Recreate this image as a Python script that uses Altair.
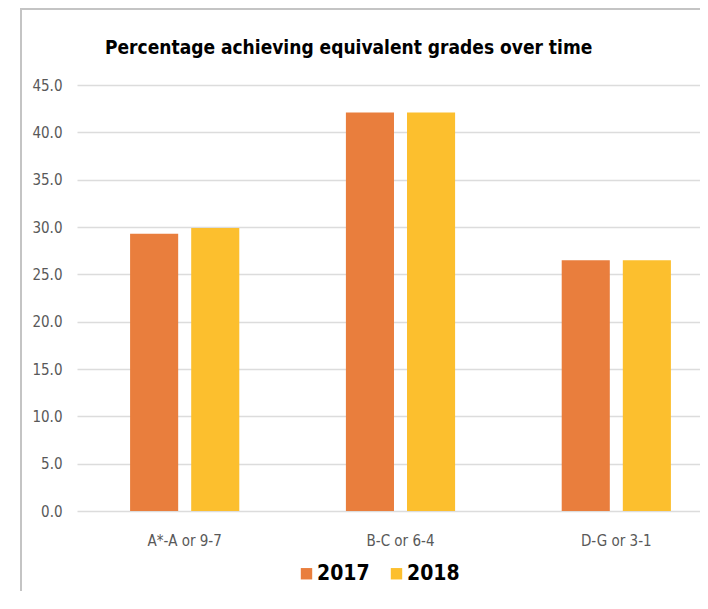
import altair as alt
import pandas as pd

categories = ["A*-A or 9-7", "B-C or 6-4", "D-G or 3-1"]
years = ["2017", "2018"]
v2017 = [29.3, 42.1, 26.5]
v2018 = [29.9, 42.1, 26.5]
y_ticks = [0, 5, 10, 15, 20, 25, 30, 35, 40, 45]
colors = ["#E97E3D", "#FCBF2E"]
title_text = "Percentage achieving equivalent grades over time"

rows = []
for c, a, b in zip(categories, v2017, v2018):
    rows.append({"grade": c, "year": "2017", "value": a})
    rows.append({"grade": c, "year": "2018", "value": b})
df = pd.DataFrame(rows)

FONT = "DejaVu Sans Condensed"
BORDER = "#c4c4c4"
one = alt.Data(values=[{"k": 1}])

left_edge = alt.Chart(one).mark_rule(color=BORDER, strokeWidth=2).encode(
    x=alt.value(-56), y=alt.value(-77), y2=alt.value(506)
)
top_edge = alt.Chart(one).mark_rule(color=BORDER, strokeWidth=2).encode(
    x=alt.value(-57), x2=alt.value(623), y=alt.value(-76)
)

title = alt.Chart(alt.Data(values=[{"t": title_text}])).mark_text(
    font=FONT, fontSize=19, fontWeight="bold", color="#000000", align="left", baseline="alphabetic"
).encode(text="t:N", x=alt.value(28), y=alt.value(-31))

bars = alt.Chart(df).mark_bar().encode(
    x=alt.X("grade:N", sort=categories,
            scale=alt.Scale(range=[0, 647], paddingInner=0.494, paddingOuter=0.246),
            axis=alt.Axis(title=None, labelAngle=0, labelFontSize=15, labelColor="#595959",
                          labelFont=FONT, labelPadding=22, ticks=False, domain=False, grid=False)),
    xOffset=alt.XOffset("year:N", sort=years, scale=alt.Scale(paddingInner=0.213, paddingOuter=0)),
    y=alt.Y("value:Q", scale=alt.Scale(domain=[0, 45], nice=False),
            axis=alt.Axis(title=None, values=y_ticks, format=".1f", labelFontSize=15,
                          labelColor="#595959", labelFont=FONT, labelPadding=15, ticks=False,
                          domain=False, gridColor="#dcdcdc", gridWidth=1.5)),
    color=alt.Color("year:N", sort=years, scale=alt.Scale(domain=years, range=colors),
                    legend=alt.Legend(title=None, orient="none", direction="horizontal",
                                      legendX=219, legendY=478, symbolType="square",
                                      symbolSize=130, symbolStrokeWidth=0, labelFontSize=21,
                                      labelFont=FONT, labelFontWeight="bold", labelColor="#000000",
                                      labelOffset=0, columnPadding=16)),
)

chart = alt.layer(left_edge, top_edge, title, bars).properties(
    width=623, height=426,
    padding={"left": 69, "top": 77, "right": 0, "bottom": 80},
    autosize=alt.AutoSizeParams(type="none"),
).configure_view(stroke=None)

chart.save("out.html", embed_options={"renderer": "svg", "actions": False})
